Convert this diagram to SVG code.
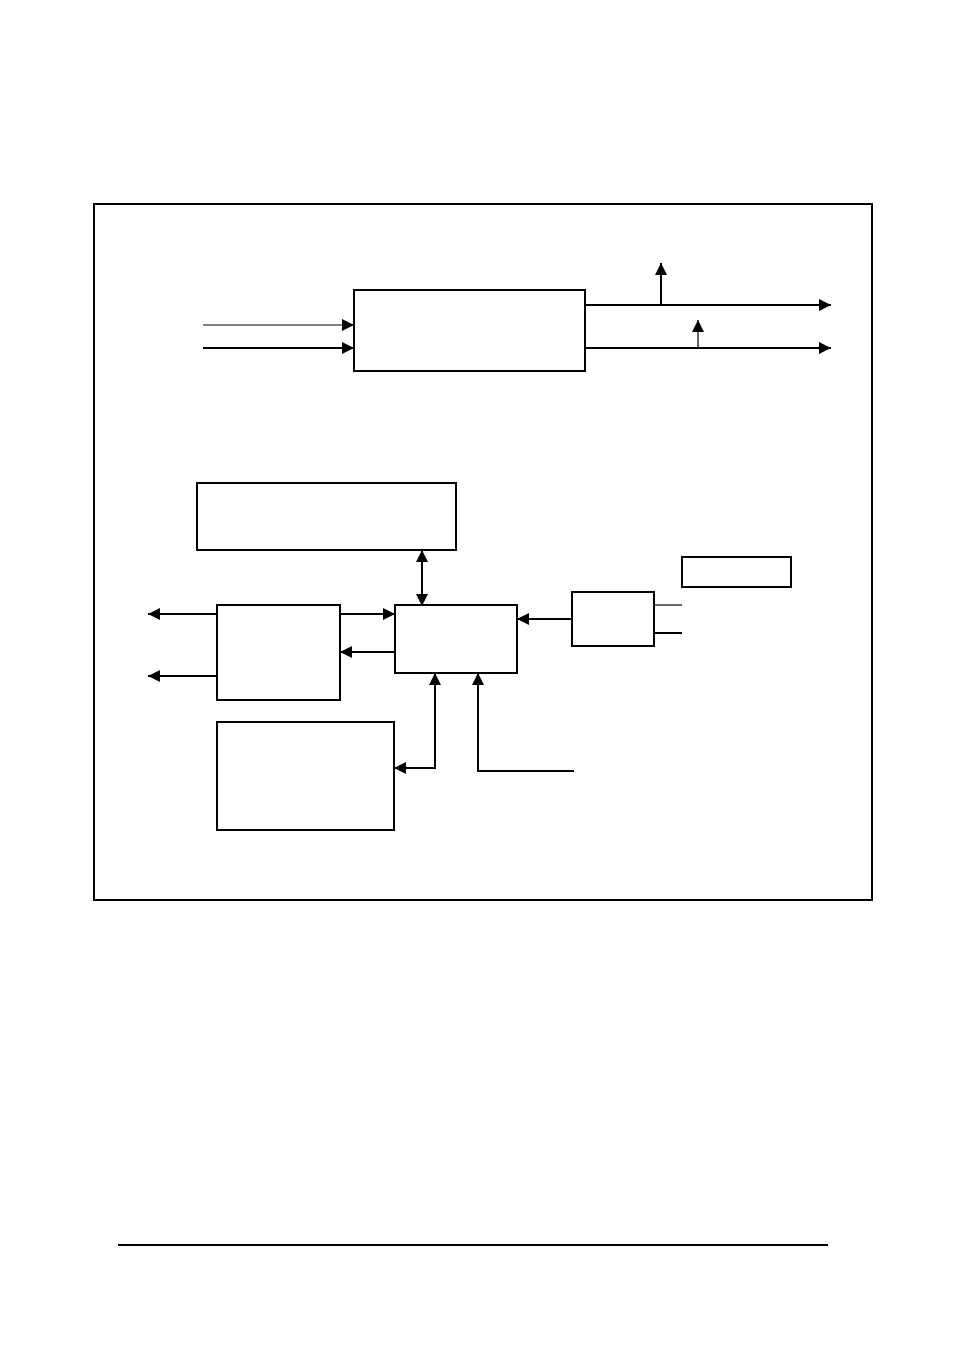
<svg xmlns="http://www.w3.org/2000/svg" width="954" height="1358" viewBox="0 0 954 1358">
<style>
.b{fill:none;stroke:#000;stroke-width:2}
.l{fill:none;stroke:#000;stroke-width:2}
.t{fill:none;stroke:#000;stroke-width:1.2}
</style>
<defs>
<marker id="a" viewBox="0 0 10 10" refX="10" refY="5" markerWidth="6" markerHeight="6" markerUnits="userSpaceOnUse" orient="auto-start-reverse"><path d="M0,0L10,5L0,10z"/></marker>
<marker id="A" viewBox="0 0 10 10" refX="10" refY="5" markerWidth="12" markerHeight="12" markerUnits="userSpaceOnUse" orient="auto-start-reverse"><path d="M0,0L10,5L0,10z"/></marker>
</defs>
<rect width="954" height="1358" fill="#fff"/>
<rect x="94" y="204" width="778" height="696" class="b"/>
<g id="n1"><rect x="354" y="290" width="231" height="81" class="b"/></g>
<g id="n2"><rect x="197" y="483" width="259" height="67" class="b"/></g>
<g id="n3"><rect x="395" y="605" width="122" height="68" class="b"/></g>
<g id="n4"><rect x="217" y="605" width="123" height="95" class="b"/></g>
<g id="n5"><rect x="572" y="592" width="82" height="54" class="b"/></g>
<g id="n6"><rect x="682" y="557" width="109" height="30" class="b"/></g>
<g id="n7"><rect x="217" y="722" width="177" height="108" class="b"/></g>
<g id="c">
<path d="M203,325H354" class="t" marker-end="url(#A)"/>
<path d="M203,348H354" class="l" marker-end="url(#A)"/>
<path d="M585,305H831" class="l" marker-end="url(#A)"/>
<path d="M585,348H831" class="l" marker-end="url(#A)"/>
<path d="M661,305V263" class="l" marker-end="url(#A)"/>
<path d="M698,348V320" class="t" marker-end="url(#A)"/>
<path d="M422,550V606" class="l" marker-start="url(#A)" marker-end="url(#A)"/>
<path d="M217,614H148" class="l" marker-end="url(#A)"/>
<path d="M217,676H148" class="l" marker-end="url(#A)"/>
<path d="M340,614H395" class="l" marker-end="url(#A)"/>
<path d="M395,652H340" class="l" marker-end="url(#A)"/>
<path d="M572,619H517" class="l" marker-end="url(#A)"/>
<path d="M654,605H682" class="t"/>
<path d="M654,633H682" class="l"/>
<path d="M435,673V768H394" class="l" marker-start="url(#A)" marker-end="url(#A)"/>
<path d="M574,771H478V673" class="l" marker-end="url(#A)"/>
</g>
<path d="M118,1245H828" class="l"/>
</svg>
